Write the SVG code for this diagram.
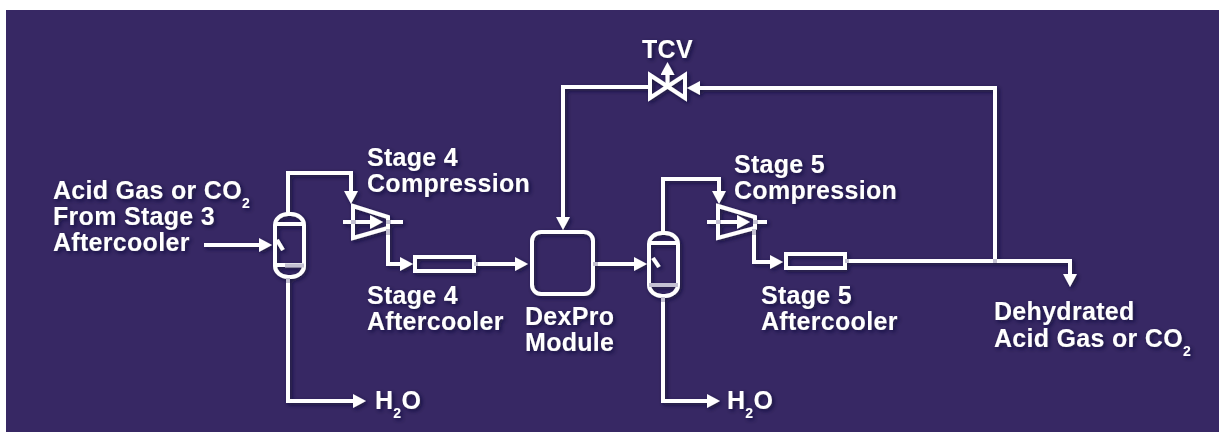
<svg xmlns="http://www.w3.org/2000/svg" width="1219" height="432" viewBox="0 0 1219 432">
<defs>
<filter id="sh" x="-20%" y="-20%" width="140%" height="140%"><feDropShadow dx="2" dy="2" stdDeviation="2" flood-color="#160e30" flood-opacity="0.75"/></filter>
<marker id="arr" markerUnits="userSpaceOnUse" markerWidth="14" markerHeight="14" refX="6" refY="7" orient="auto"><path d="M0 0L13 7L0 14Z" fill="#fff"/></marker>
</defs>
<style>
text{font-family:"Liberation Sans",Arial,sans-serif;font-weight:bold;font-size:25px;letter-spacing:.3px;fill:#fff}
.s{font-size:14px}
.l{fill:none;stroke:#fff;stroke-width:4}
.a{marker-end:url(#arr)}
.g{fill:none;stroke:#c4c1d2;stroke-width:4}
</style>
<rect width="1219" height="432" fill="#fff"/>
<rect x="6" y="10" width="1213" height="422" fill="#372864"/>
<g filter="url(#sh)">
<g id="connectors" class="l">
<path class="a" d="M204 245H265"/>
<path class="a" d="M288 213V173H351V197"/>
<path class="a" d="M388 228V264H406"/>
<path class="a" d="M474 264H521"/>
<path class="a" d="M593 264H640"/>
<path class="a" d="M288 277V401H359"/>
<path class="a" d="M663 232V179H719V197"/>
<path class="a" d="M754 228V262H776"/>
<path class="a" d="M663 296V401H713"/>
<path class="a" d="M845 261H1070V280"/>
<path class="a" d="M995 261V88H694"/>
<path class="a" d="M650 87H563V223"/>
<path class="a" d="M667.500 87V69"/>
</g>
<g id="separator-1" class="l">
<rect x="275" y="214" width="29" height="63" rx="13" ry="11"/>
<path d="M275 224H304M275 265H304M277 240L283 250"/>
</g>
<g id="compressor-4" class="l">
<path d="M353 206L388 217V228L353 238Z"/>
<path class="a" d="M343 222H376"/>
<path d="M388 222H403"/>
</g>
<g id="aftercooler-4" class="l"><rect x="415" y="257" width="59" height="14"/></g>
<g id="dexpro" class="l"><rect x="532" y="232" width="61" height="62" rx="9"/></g>
<g id="separator-2" class="l">
<rect x="649" y="233" width="29" height="63" rx="13" ry="11"/>
<path d="M649 243H678M649 285H678M653 258L659 267"/>
</g>
<g id="compressor-5" class="l">
<path d="M718 206L755 217V228L718 238Z"/>
<path class="a" d="M707 222H743"/>
<path d="M755 222H767"/>
</g>
<g id="aftercooler-5" class="l"><rect x="786" y="254" width="59" height="14"/></g>
<g id="tcv" class="l"><path d="M650 75L685 98V75L650 98Z"/></g>
<g id="details" class="g">
<path d="M351 222H356M386 222H391M388 229V235M285 265.500H304M288 278V283M474 264H478M593 264H598M716 222H721M753 222H758M754 229V235M649 285H678M663 297V302M845 261H849M993 261H997"/>
</g>
<g id="labels">
<text x="53" y="199">Acid Gas or CO<tspan class="s" dy="9">2</tspan></text>
<text x="53" y="225">From Stage 3</text>
<text x="53" y="251">Aftercooler</text>
<text x="367" y="166">Stage 4</text>
<text x="367" y="192">Compression</text>
<text x="367" y="304">Stage 4</text>
<text x="367" y="330">Aftercooler</text>
<text x="375" y="409">H<tspan class="s" dy="9">2</tspan><tspan dy="-9">O</tspan></text>
<text x="525" y="325">DexPro</text>
<text x="525" y="351">Module</text>
<text x="734" y="173">Stage 5</text>
<text x="734" y="199">Compression</text>
<text x="761" y="304">Stage 5</text>
<text x="761" y="330">Aftercooler</text>
<text x="727" y="409">H<tspan class="s" dy="9">2</tspan><tspan dy="-9">O</tspan></text>
<text x="642" y="58">TCV</text>
<text x="994" y="320">Dehydrated</text>
<text x="994" y="347">Acid Gas or CO<tspan class="s" dy="9">2</tspan></text>
</g>
</g>
</svg>
